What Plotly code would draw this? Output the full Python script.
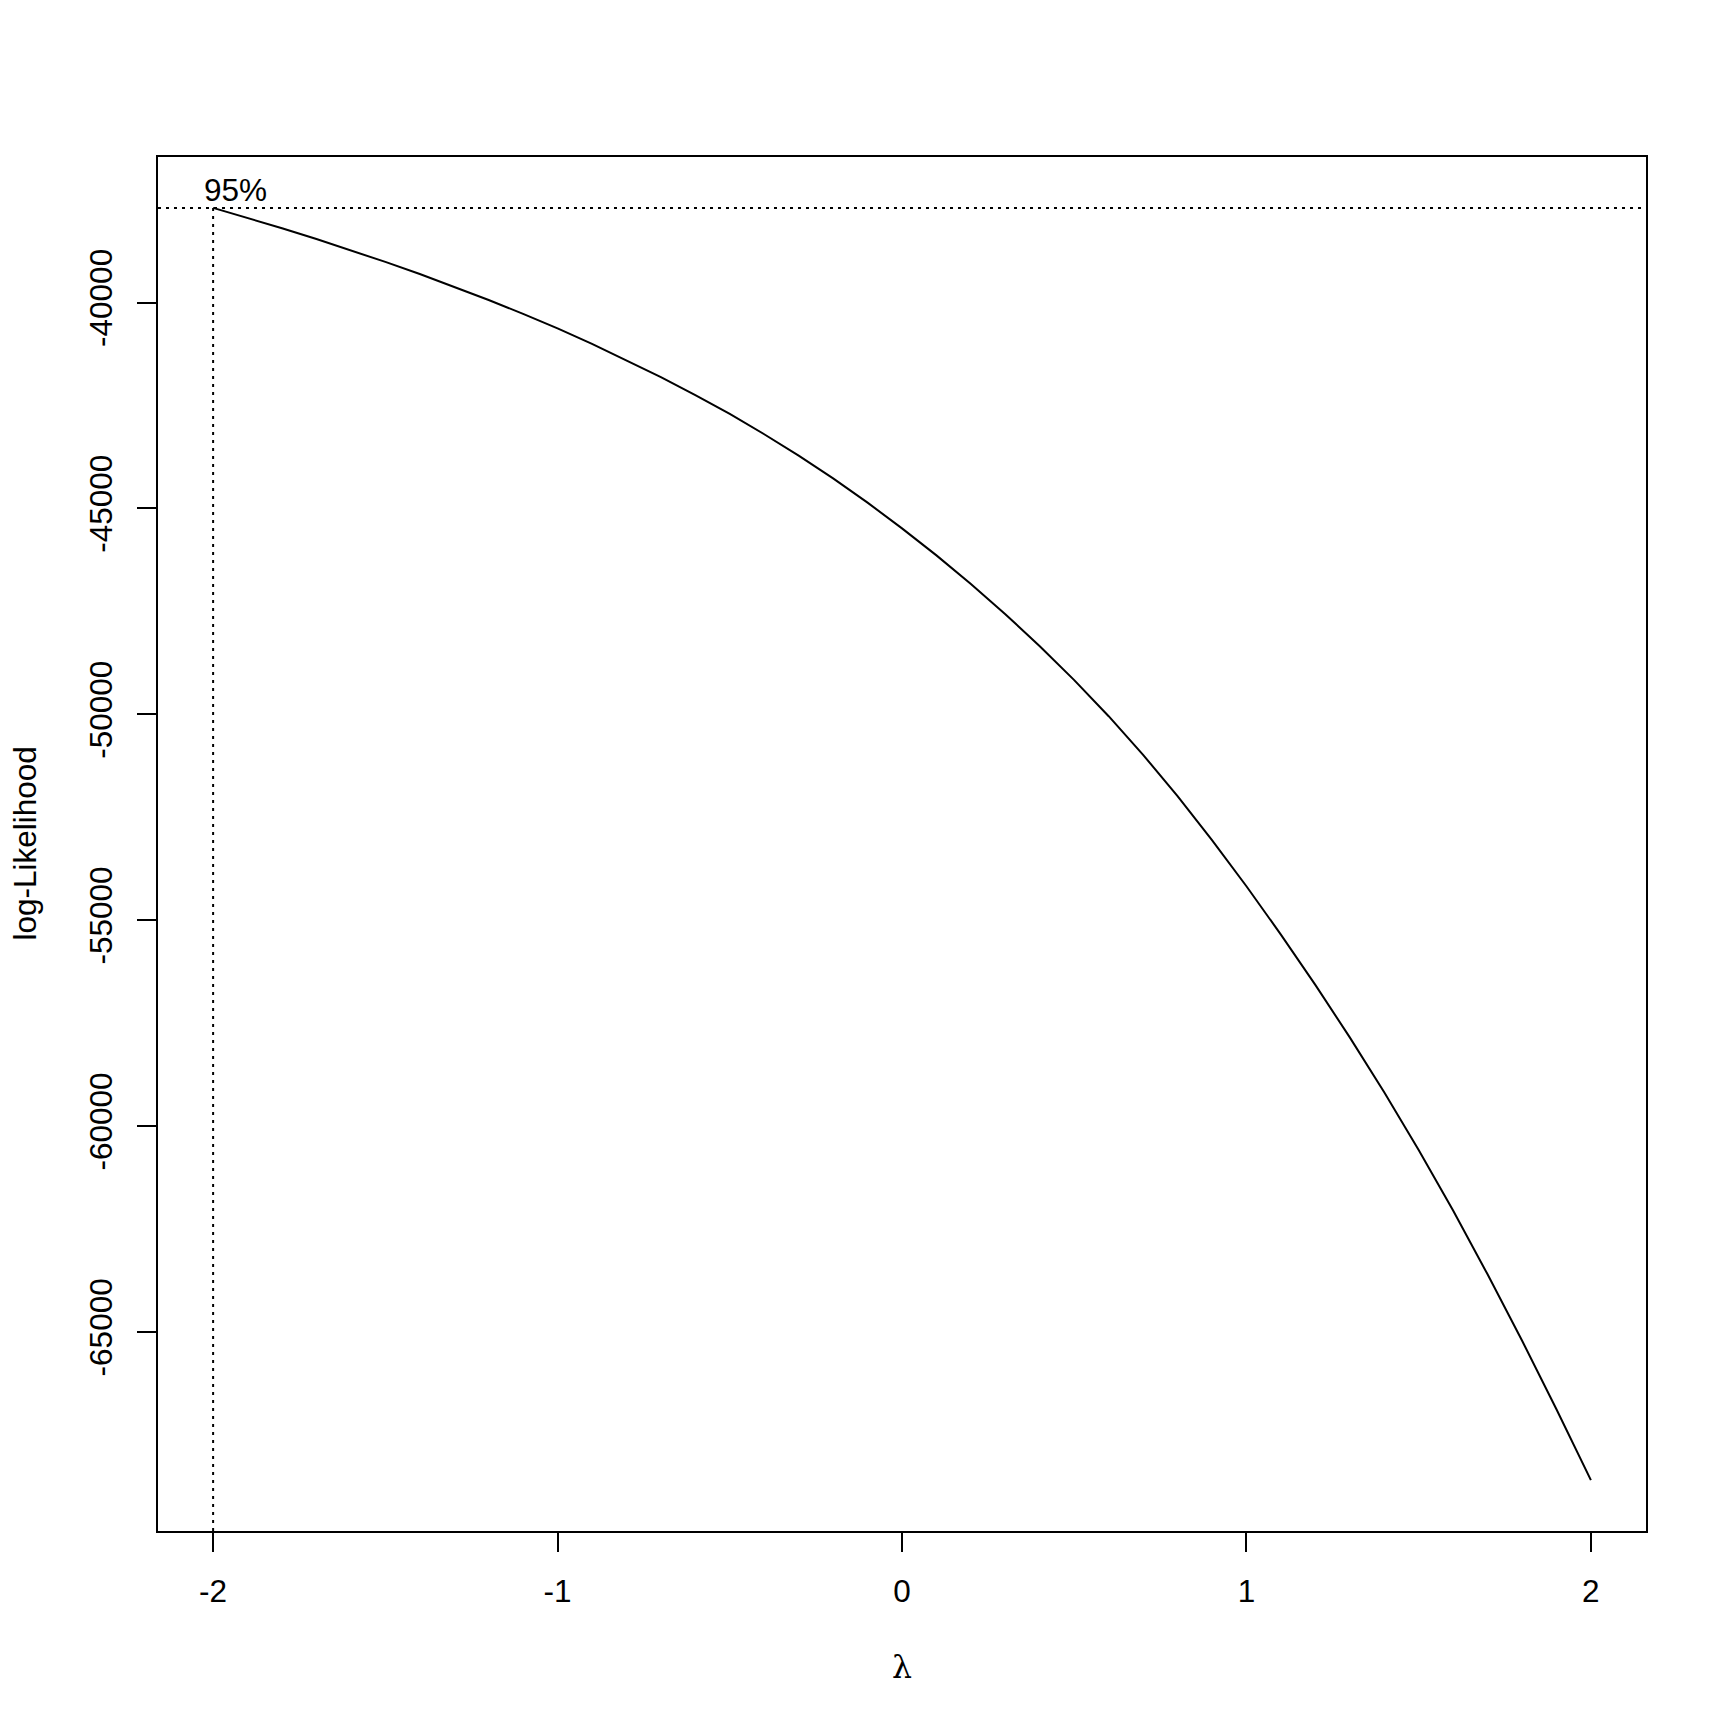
import plotly.graph_objects as go

# Box-Cox profile log-likelihood
lambdas = [-2.0, -1.9, -1.8, -1.7, -1.6, -1.5, -1.4, -1.3, -1.2, -1.1,
           -1.0, -0.9, -0.8, -0.7, -0.6, -0.5, -0.4, -0.3, -0.2, -0.1,
           0.0, 0.1, 0.2, 0.3, 0.4, 0.5, 0.6, 0.7, 0.8, 0.9,
           1.0, 1.1, 1.2, 1.3, 1.4, 1.5, 1.6, 1.7, 1.8, 1.9, 2.0]
loglik = [-37700, -37943, -38195, -38457, -38729, -39012, -39307, -39615, -39937, -40274,
          -40627, -41002, -41396, -41810, -42246, -42705, -43197, -43718, -44268, -44858,
          -45483, -46139, -46833, -47566, -48344, -49168, -50044, -50982, -51985, -53051,
          -54173, -55348, -56569, -57843, -59178, -60578, -62048, -63598, -65206, -66873,
          -68595]
ci_level = -37700          # 95% cut-off line
ci_lambda = [-2.0, -2.0]   # lower bound of the interval
ci_label = "95%"

x_ticks = [-2, -1, 0, 1, 2]
y_ticks = [-40000, -45000, -50000, -55000, -60000, -65000]

xr = [min(lambdas) - 0.04 * (max(lambdas) - min(lambdas)),
      max(lambdas) + 0.04 * (max(lambdas) - min(lambdas))]
yspan = max(loglik) - min(loglik)
yr = [min(loglik) - 0.04 * yspan, max(loglik) + 0.04 * yspan]

FONT = "Liberation Sans, Arial, sans-serif"
FS = 31.5
dots = "3px,5px"

fig = go.Figure()
fig.add_trace(go.Scatter(x=lambdas, y=loglik, mode="lines",
                         line=dict(color="black", width=2), showlegend=False,
                         hoverinfo="skip"))
# horizontal dotted line at the 95% level
fig.add_trace(go.Scatter(x=xr, y=[ci_level, ci_level], mode="lines",
                         line=dict(color="black", width=2, dash=dots),
                         showlegend=False, hoverinfo="skip"))
# vertical dotted line at lower bound
fig.add_trace(go.Scatter(x=ci_lambda, y=[yr[0], ci_level], mode="lines",
                         line=dict(color="black", width=2, dash=dots),
                         showlegend=False, hoverinfo="skip"))

fig.add_annotation(x=ci_lambda[0] + 0.066, y=ci_level, text=ci_label,
                   showarrow=False, xanchor="center", yanchor="bottom",
                   yshift=-2, font=dict(family=FONT, size=FS, color="black"))

fig.add_annotation(x=0.5, y=0, xref="paper", yref="paper", text="λ",
                   showarrow=False, xanchor="center", yanchor="middle",
                   yshift=-135.5,
                   font=dict(family="DejaVu Serif, Liberation Serif, serif", size=FS, color="black"))
fig.add_annotation(x=0, y=0.5, xref="paper", yref="paper", text="log-Likelihood",
                   showarrow=False, xanchor="center", yanchor="middle",
                   xshift=-133.5, textangle=-90,
                   font=dict(family=FONT, size=FS, color="black"))

axis_common = dict(showgrid=False, zeroline=False, showline=True, mirror=True,
                   linecolor="black", linewidth=2, ticks="outside", ticklen=19,
                   tickwidth=2, tickcolor="black", ticklabelstandoff=12,
                   tickfont=dict(family=FONT, size=FS, color="black"))

fig.update_xaxes(range=xr, tickmode="array", tickvals=x_ticks,
                 ticktext=[str(v) for v in x_ticks], **axis_common)
fig.update_yaxes(range=yr, tickmode="array", tickvals=y_ticks,
                 ticktext=[str(v) for v in y_ticks], tickangle=-90, **axis_common)

fig.update_layout(width=1728, height=1728, plot_bgcolor="white", paper_bgcolor="white",
                  margin=dict(l=149.6, r=89.5, t=148.5, b=204.5, autoexpand=False))

fig.write_html("out.html")
